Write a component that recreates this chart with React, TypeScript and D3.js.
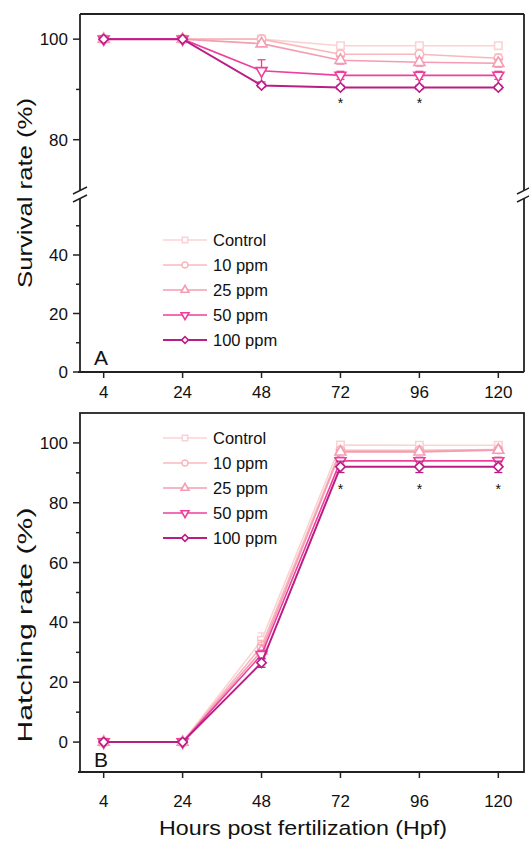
import React from 'react';
import * as d3 from 'd3';

// hours post fertilization
const hours = [4, 24, 48, 72, 96, 120];
const groups = ['Control', '10 ppm', '25 ppm', '50 ppm', '100 ppm'];
const colors = ['#fbd3d6', '#f8b8bb', '#f49cb3', '#ee3f9c', '#b91e86'];

// Survival rate (%) per group
const survivalControl = [100, 100, 100, 98.7, 98.7, 98.7];
const survival10 = [100, 100, 100, 97.0, 97.0, 96.2];
const survival25 = [100, 100, 99.1, 95.8, 95.4, 95.2];
const survival50 = [100, 100, 93.7, 92.8, 92.8, 92.8];
const survival100 = [100, 100, 90.8, 90.4, 90.4, 90.4];
const survivalErr = [
  [0, 0, 0.4, 0.6, 0.6, 0.5],
  [0, 0, 0.4, 0.6, 0.6, 0.8],
  [0, 0, 0.5, 0.8, 0.8, 0.8],
  [0, 0, 2.2, 0.8, 0.8, 0.8],
  [0, 0, 0.4, 0.4, 0.4, 0.4],
];
const survivalStars = [72, 96];

// Hatching rate (%) per group
const hatchControl = [0, 0, 34, 99.3, 99.2, 99.2];
const hatch10 = [0, 0, 32, 97.5, 97.5, 97.8];
const hatch25 = [0, 0, 30.5, 97.0, 97.0, 97.6];
const hatch50 = [0, 0, 29.2, 94.0, 94.0, 94.0];
const hatch100 = [0, 0, 26.5, 92.0, 92.0, 92.0];
const hatchErr = [
  [0, 0, 2.5, 0.6, 0.6, 0.6],
  [0, 0, 2.0, 0.8, 0.8, 0.8],
  [0, 0, 2.0, 0.8, 0.8, 0.8],
  [0, 0, 1.5, 1.2, 1.2, 1.2],
  [0, 0, 1.5, 1.9, 1.9, 1.9],
];
const hatchStars = [72, 96, 120];

const survivalTicksUpper = [80, 100];
const survivalTicksLower = [0, 20, 40];
const hatchTicks = [0, 20, 40, 60, 80, 100];

const survival = [survivalControl, survival10, survival25, survival50, survival100];
const hatching = [hatchControl, hatch10, hatch25, hatch50, hatch100];

const FONT = 'Liberation Sans, Arial, sans-serif';

const markerPath = (i: number) => {
  const types = [d3.symbolSquare, d3.symbolCircle, d3.symbolTriangle, d3.symbolTriangle, d3.symbolSquare];
  const sizes = [56, 56, 52, 52, 44];
  return d3.symbol().type(types[i]).size(sizes[i])() as string;
};
const markerRotate = [0, 0, 0, 180, 45];

function Marker({ i, x, y, scale = 1 }: { i: number; x: number; y: number; scale?: number }) {
  return (
    <path
      d={markerPath(i)}
      transform={`translate(${x},${y}) rotate(${markerRotate[i]}) scale(${scale})`}
      fill="#fff"
      stroke={colors[i]}
      strokeWidth={1.6 / scale}
    />
  );
}

function Legend({ top }: { top: number }) {
  return (
    <g>
      {groups.map((g, i) => {
        const y = top + i * 25;
        return (
          <g key={g}>
            <line x1={163} x2={207} y1={y} y2={y} stroke={colors[i]} strokeWidth={i === 4 ? 2.2 : 1.6} />
            <Marker i={i} x={185} y={y} scale={0.72} />
            <text x={213} y={y + 6} fontSize={16.5} fontFamily={FONT} fill="#111">{g}</text>
          </g>
        );
      })}
    </g>
  );
}

export default function App() {
  const left = 80;
  const right = 524;

  const x = d3.scalePoint<number>().domain(hours).range([80, 522]).padding(0.3);

  // panel A: broken y axis
  const aTop = 14;
  const aBottom = 372;
  const yUpper = d3.scaleLinear().domain([70, 105]).range([190, aTop]);
  const yLower = d3.scaleLinear().domain([0, 40]).range([aBottom, 255]);
  const lowerTop = 198;
  const breakUp = 190;

  // panel B
  const bTop = 413;
  const bBottom = 772;
  const yB = d3.scaleLinear().domain([-10, 110]).range([bBottom, bTop]);

  const drawSeries = (data: number[][], err: number[][], y: (v: number) => number) =>
    data.map((vals, i) => {
      const pts = hours.map((h, k) => ({ h, v: vals[k], e: err[i][k] }));
      const line = d3.line<{ h: number; v: number }>().x(d => x(d.h)!).y(d => y(d.v));
      return (
        <g key={i}>
          <path d={line(pts)!} fill="none" stroke={colors[i]} strokeWidth={i === 4 ? 2 : 1.6} />
          {pts.filter(p => p.e > 0).map(p => (
            <g key={p.h} stroke={colors[i]} strokeWidth={1.3}>
              <line x1={x(p.h)} x2={x(p.h)} y1={y(p.v - p.e)} y2={y(p.v + p.e)} />
              <line x1={x(p.h)! - 4} x2={x(p.h)! + 4} y1={y(p.v + p.e)} y2={y(p.v + p.e)} />
              <line x1={x(p.h)! - 4} x2={x(p.h)! + 4} y1={y(p.v - p.e)} y2={y(p.v - p.e)} />
            </g>
          ))}
          {pts.map(p => (
            <Marker key={p.h} i={i} x={x(p.h)!} y={y(p.v)} />
          ))}
        </g>
      );
    });

  const xTicks = (axisY: number, labelY: number) => (
    <g>
      <line x1={left - 2} x2={right} y1={axisY} y2={axisY} stroke="#222" strokeWidth={1.8} />
      {hours.map(h => (
        <g key={h}>
          <line x1={x(h)} x2={x(h)} y1={axisY} y2={axisY + 6} stroke="#222" strokeWidth={1.5} />
          <text x={x(h)} y={labelY} textAnchor="middle" fontSize={17} fontFamily={FONT} fill="#111">{h}</text>
        </g>
      ))}
    </g>
  );

  const yTick = (yy: number, label?: number) => (
    <g key={`${yy}`}>
      <line x1={label !== undefined ? left - 7 : left - 4} x2={left} y1={yy} y2={yy} stroke="#222" strokeWidth={1.5} />
      {label !== undefined && (
        <text x={left - 12} y={yy + 6} textAnchor="end" fontSize={17} fontFamily={FONT} fill="#111">{label}</text>
      )}
    </g>
  );

  const breakMark = (bx: number) => (
    <g stroke="#222" strokeWidth={1.5}>
      <line x1={bx - 7} y1={breakUp + 4} x2={bx + 7} y2={breakUp - 3} />
      <line x1={bx - 7} y1={lowerTop + 4} x2={bx + 7} y2={lowerTop - 3} />
    </g>
  );

  return (
    <svg width={529} height={842} style={{ position: 'absolute', left: 0, top: 0, background: '#fff' }}>
      {/* Panel A frame */}
      <g>
        <line x1={left} x2={right} y1={aTop} y2={aTop} stroke="#222" strokeWidth={1.8} />
        <line x1={left} x2={left} y1={aTop} y2={breakUp} stroke="#222" strokeWidth={1.8} />
        <line x1={left} x2={left} y1={lowerTop} y2={aBottom} stroke="#222" strokeWidth={1.8} />
        <line x1={right} x2={right} y1={aTop} y2={breakUp} stroke="#222" strokeWidth={1.8} />
        <line x1={right} x2={right} y1={lowerTop} y2={aBottom} stroke="#222" strokeWidth={1.8} />
        {breakMark(left)}
        {breakMark(right)}
        {survivalTicksUpper.map(t => yTick(yUpper(t), t))}
        {[90].map(t => yTick(yUpper(t)))}
        {survivalTicksLower.map(t => yTick(yLower(t), t))}
        {[10, 30, 50].map(t => yTick(yLower(t)))}
        {xTicks(aBottom, 398)}
      </g>
      {drawSeries(survival, survivalErr, yUpper)}
      {survivalStars.map(h => (
        <text key={h} x={x(h)} y={yUpper(87.5) + 6} textAnchor="middle" fontSize={14} fontFamily={FONT} fill="#111">*</text>
      ))}
      <Legend top={240} />
      <text x={94} y={365} fontSize={21} fontFamily={FONT} fill="#111">A</text>
      <text
        transform={`translate(32, 193) rotate(-90)`}
        textAnchor="middle"
        fontSize={20}
        fontFamily={FONT}
        fill="#111"
        textLength={190}
        lengthAdjust="spacingAndGlyphs"
      >
        Survival rate (%)
      </text>

      {/* Panel B frame */}
      <g>
        <rect x={left} y={bTop} width={right - left} height={bBottom - bTop} fill="none" stroke="#222" strokeWidth={1.8} />
        {hatchTicks.map(t => yTick(yB(t), t))}
        {[10, 30, 50, 70, 90].map(t => yTick(yB(t)))}
        {xTicks(bBottom, 807)}
      </g>
      {drawSeries(hatching, hatchErr, yB)}
      {hatchStars.map(h => (
        <text key={h} x={x(h)} y={yB(85) + 6} textAnchor="middle" fontSize={14} fontFamily={FONT} fill="#111">*</text>
      ))}
      <Legend top={438} />
      <text x={94} y={767} fontSize={21} fontFamily={FONT} fill="#111">B</text>
      <text
        transform={`translate(32, 625) rotate(-90)`}
        textAnchor="middle"
        fontSize={20}
        fontFamily={FONT}
        fill="#111"
        textLength={235}
        lengthAdjust="spacingAndGlyphs"
      >
        Hatching rate (%)
      </text>
      <text x={303} y={835} textAnchor="middle" fontSize={21} fontFamily={FONT} fill="#111" textLength={288} lengthAdjust="spacingAndGlyphs">
        Hours post fertilization (Hpf)
      </text>
    </svg>
  );
}
